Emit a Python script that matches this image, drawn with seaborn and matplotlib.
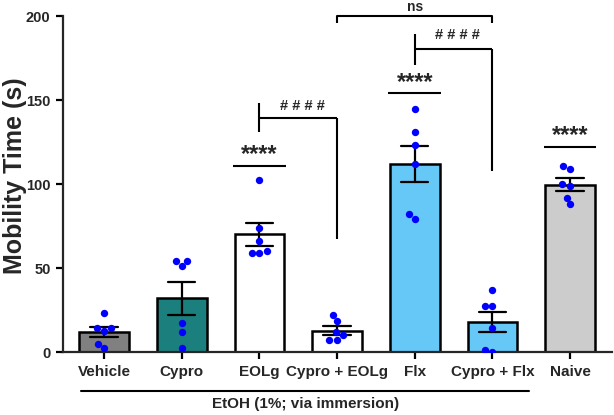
import numpy as np
import pandas as pd
import matplotlib
matplotlib.use("Agg")
import matplotlib.pyplot as plt
import matplotlib.transforms as mtransforms
import seaborn as sns

# ---- data ----
groups = ["Vehicle", "Cypro", "EOLg", "Cypro + EOLg", "Flx", "Cypro + Flx", "Naive"]
vehicle = [23.2, 14.3, 14.3, 12.5, 4.8, 2.4]
cypro = [54.2, 51.0, 54.2, 17.3, 12.1, 2.4]
eolg = [102.4, 73.6, 66.1, 60.1, 59.1, 59.0]
cypro_eolg = [22.0, 18.3, 12.1, 10.1, 7.1, 7.1]
flx = [144.8, 130.8, 123.0, 112.0, 82.0, 79.0]
cypro_flx = [37.0, 27.2, 27.2, 14.1, 0.2, 1.2]
naive = [108.7, 110.9, 99.0, 99.8, 91.9, 87.9]
bar_colors = ["#808080", "#1b807d", "#ffffff", "#ffffff", "#66c8f7", "#66c8f7", "#cccccc"]
yticks = [0, 50, 100, 150, 200]

series = [vehicle, cypro, eolg, cypro_eolg, flx, cypro_flx, naive]
df = pd.DataFrame({
    "group": np.repeat(groups, [len(s) for s in series]),
    "value": np.concatenate(series),
})
df["group"] = pd.Categorical(df["group"], categories=groups, ordered=True)

sns.set_style("ticks")
plt.rcParams["font.family"] = ["Liberation Sans", "DejaVu Sans"]

fig = plt.figure(figsize=(6.14, 4.15), dpi=100)
ax = fig.add_axes([63 / 614, 63 / 415, (612 - 63) / 614, 336 / 415])

sns.barplot(data=df, x="group", y="value", hue="group", order=groups,
            hue_order=groups, palette=bar_colors, legend=False, saturation=1,
            errorbar="se", capsize=0.35, width=0.64,
            edgecolor="black", linewidth=1.8,
            err_kws={"color": "black", "linewidth": 1.6}, ax=ax)
for p in ax.patches:
    p.set_edgecolor("black")
sns.swarmplot(data=df, x="group", y="value", order=groups, color="#0000ff",
              size=5.3, linewidth=0, ax=ax, zorder=3)

ax.set_ylim(0, 200)
ax.set_xlim(-0.528, 6.54)
ax.set_yticks(yticks)
ax.set_yticklabels([str(t) for t in yticks], fontweight="bold", fontsize=10.5)
ax.set_xticks(range(len(groups)))
ax.set_xticklabels(groups, fontweight="bold", fontsize=11)
ax.set_xlabel("")
ax.set_ylabel("Mobility Time (s)", fontweight="bold", fontsize=18)
ax.yaxis.set_label_coords((27 - 63) / 549, (352 - 176) / 336)
sns.despine(ax=ax)
for s in ["left", "bottom"]:
    ax.spines[s].set_linewidth(1.6)
ax.tick_params(axis="both", width=1.6, length=5, color="black", pad=4)

lw = 1.5
kw = dict(color="black", lw=lw, clip_on=False, solid_capstyle="butt")

# significance lines over single bars
for xi, ly in [(2, 110.9), (4, 154.3), (6, 122.2)]:
    ax.plot([xi - 0.34, xi + 0.34], [ly, ly], **kw)
    ax.text(xi, ly + 2.5, "****", ha="center", va="baseline",
            fontsize=17, fontweight="bold", clip_on=False)

# #### brackets
ax.plot([2, 2], [131, 148.4], **kw)
ax.plot([2, 3], [139.5, 139.5], **kw)
ax.plot([3, 3], [139.5, 67.3], **kw)
ax.text(2.55, 144.0, "# # # #", ha="center", va="baseline", fontsize=10.5,
        fontweight="bold", clip_on=False)

ax.plot([4, 4], [171, 189], **kw)
ax.plot([4, 5], [180.4, 180.4], **kw)
ax.plot([5, 5], [180.4, 107.9], **kw)
ax.text(4.55, 186.2, "# # # #", ha="center", va="baseline", fontsize=10.5,
        fontweight="bold", clip_on=False)

# ns bracket
ax.plot([3, 3, 5, 5], [195.8, 200.2, 200.2, 195.8], **kw)
ax.text(4, 203.0, "ns", ha="center", va="baseline", fontsize=10,
        fontweight="bold", clip_on=False)

# EtOH group line below axis
trans = mtransforms.blended_transform_factory(ax.transData, ax.transAxes)
ax.plot([-0.30, 5.47], [-0.115, -0.115], color="black", lw=1.5,
        transform=trans, clip_on=False)
ax.text(2.59, -0.155, "EtOH (1%; via immersion)", ha="center", va="center",
        fontsize=11, fontweight="bold", transform=trans)

fig.savefig("out.png", dpi=100)
